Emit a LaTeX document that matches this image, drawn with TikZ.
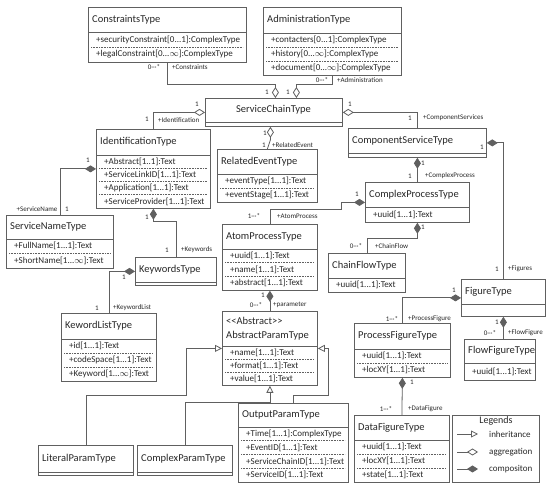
\documentclass[tikz,border=0pt]{standalone}
\usepackage{fontspec}
\setmainfont{Carlito}
\usetikzlibrary{arrows.meta}

\definecolor{umlgray}{RGB}{96,96,96}
\definecolor{umlink}{RGB}{40,40,40}

\tikzset{
  classbox/.style={draw=umlgray, line width=0.8pt, fill=white, inner sep=0pt, anchor=north west},
  classrule/.style={draw=umlgray, line width=0.8pt},
  attrrule/.style={draw=umlgray, line width=0.5pt, dash pattern=on 0.8pt off 0.8pt},
  classname/.style={anchor=west, inner sep=0pt, align=left, text=umlink, font=\fontsize{10.5}{14}\selectfont},
  attrname/.style={anchor=west, inner sep=0pt, text=umlink, font=\fontsize{9}{10}\selectfont},
  role/.style={inner sep=0pt, text=umlink, font=\fontsize{7}{8}\selectfont},
  link/.style={draw=umlgray, line width=0.8pt},
  aggr/.style={link, {Diamond[open, length=11pt, width=7pt, fill=white]}-},
  comp/.style={link, {Diamond[length=11pt, width=7pt]}-},
  inh/.style={link, {Triangle[open, length=7pt, width=7pt, fill=white]}-},
}

\newcommand{\rng}{...}
\newcommand{\infm}{\ensuremath{\infty}}

% #1 title options, #2 name, #3-#6 x1 y1 x2 y2, #7 header bottom, #8 title, #9 attributes
\newcommand{\umlclass}[9][]{%
  \node[classbox, minimum width=#5-#3, minimum height=#6-#4] (#2) at (#3,#4) {};
  \draw[classrule] (#3,#7) -- (#5,#7);
  \node[classname, #1] (#2-title) at ({#3+4},{(#4+#7)/2}) {#8};
  \def\nattr{0}%
  \foreach \a in {#9}{\pgfmathtruncatemacro\tmp{\nattr+1}\global\let\nattr\tmp}%
  \ifnum\nattr=0 \def\nattr{1}\fi
  \pgfmathsetmacro\rowh{(#6-#7)/\nattr}%
  \foreach \a [count=\i] in {#9}{%
    \node[attrname] (#2-\i) at ({#3+8},{#7+\rowh*(\i-0.5)}) {\a};
    \ifnum\i<\nattr\relax
      \draw[attrrule] ({#3+3},{#7+\rowh*\i}) -- ({#5-3},{#7+\rowh*\i});
    \fi
  }%
}

\begin{document}
\begin{tikzpicture}[x=1pt, y=-1pt]
  \path[use as bounding box, fill=white] (0,0) rectangle (550,489);

  % classes
  \umlclass{cons}{88}{7}{246}{62}{32}{ConstraintsType}{+securityConstraint[0\rng1]:ComplexType, +legalConstraint[0\rng\infm]:ComplexType}
  \umlclass{adm}{263}{7}{401}{75}{33}{AdministrationType}{+contacters[0\rng1]:ComplexType, +history[0\rng\infm]:ComplexType, +document[0\rng\infm]:ComplexType}
  \umlclass[anchor=center, xshift=64.5]{sct}{205}{98}{342}{126}{122}{ServiceChainType}{}
  \umlclass{idt}{96}{129}{210}{208}{155}{IdentificationType}{+Abstract[1..1]:Text, +ServiceLinkID[1\rng1]:Text, +Application[1\rng1]:Text, +ServiceProvider[1\rng1]:Text}
  \umlclass{ret}{217}{149}{317}{202}{174}{RelatedEventType}{+eventType[1\rng1]:Text, +eventStage[1\rng1]:Text}
  \umlclass{cst}{348}{128}{486}{157}{153}{ComponentServiceType}{}
  \umlclass{cpt}{365}{182}{469}{222}{207}{ComplexProcessType}{+uuid[1\rng1]:Text}
  \umlclass{snt}{6}{215}{113}{268}{239}{ServiceNameType}{+FullName[1\rng1]:Text, +ShortName[1\rng\infm]:Text}
  \umlclass{kwt}{135}{257}{216}{285}{282}{KeywordsType}{}
  \umlclass{klt}{61}{313}{156}{381}{339}{KewordListType}{+id[1\rng1]:Text, +codeSpace[1\rng1]:Text, +Keyword[1\rng\infm]:Text}
  \umlclass{apt}{222}{224}{317}{290}{249}{AtomProcessType}{+uuid[1\rng1]:Text, +name[1\rng1]:Text, +abstract[1\rng1]:Text}
  \umlclass{cft}{328}{253}{405}{292}{278}{ChainFlowType}{+uuid[1\rng1]:Text}
  \umlclass{abp}{222}{311}{317}{385}{346}{<{}<Abstract>{}>\\AbstractParamType}{+name[1\rng1]:Text, +format[1\rng1]:Text, +value[1\rng1]:Text}
  \umlclass{opt}{238}{403}{348}{482}{427}{OutputParamType}{+Time[1\rng1]:ComplexType, +EventID[1\rng1]:Text, +ServiceChainID[1\rng1]:Text, +ServiceID[1\rng1]:Text}
  \umlclass{lpt}{38}{445}{133}{475}{472}{LiteralParamType}{}
  \umlclass{cxp}{137}{445}{232}{475}{472}{ComplexParamType}{}
  \umlclass{fgt}{461}{279}{545}{316}{304}{FigureType}{}
  \umlclass{pft}{354}{323}{450}{377}{349}{ProcessFigureType}{+uuid[1\rng1]:Text, +locXY[1\rng1]:Text}
  \umlclass{fft}{464}{339}{535}{380}{363}{FlowFigureType}{+uuid[1\rng1]:Text}
  \umlclass{dft}{354}{415}{449}{482}{440}{DataFigureType}{+uuid[1\rng1]:Text, +locXY[1\rng1]:Text, +state[1\rng1]:Text}

  % aggregation
  \draw[aggr] ([xshift=1.5]sct.north) -- ++(0,-14) -| (cons.south);
  \draw[aggr] ([xshift=22.5]sct.north) -- ++(0,-14) -| (adm.south);
  \draw[aggr] (sct.west) -| (idt.north);
  \draw[aggr] ([xshift=-3.5]sct.south) -- ++(0,13) -- (ret.north);
  \draw[aggr] (sct.east) -| (cst.north);

  % composition
  \draw[comp] (cst.east) -| (fgt.north);
  \draw[comp] (cst.south) -- (cpt.north);
  \draw[comp] (cpt.west) -- ++(-24,0) -- ++(0,7) -| (apt.north);
  \draw[comp] (cpt.south) -- ++(0,16) -| (cft.north);
  \draw[comp] (idt.west) -| (snt.north);
  \draw[comp] (idt.south) -- ++(0,13) -| (kwt.north);
  \draw[comp] (kwt.west) -| (klt.north);
  \draw[comp] (apt.south) -- (abp.north);
  \draw[comp] (fgt.west) -| (pft.north);
  \draw[comp] (fgt.south) -- (fgt.south |- fft.north);
  \draw[comp] (pft.south) -- (dft.north);

  % inheritance
  \draw[inh] (abp.west) -- ++(-36,0) -- ++(0,47) -| (lpt.north);
  \draw[inh] (abp.south) -- ++(0,17) -| (cxp.north);
  \draw[inh] (abp.east) -- ++(11,0) -- ++(0,47) -| (opt.north);

  % roles and multiplicities
  \node[role] (m1) at (267,92) {1};
  \node[role] (m2) at (154,67) {0···*};
  \node[role, anchor=west] (r1) at (172,67) {+Constraints};
  \node[role] (m3) at (288,92) {1};
  \node[role] (m4) at (322,80) {0···*};
  \node[role, anchor=west] (r2) at (337,80) {+Administration};
  \node[role] (m5) at (197,104) {1};
  \node[role] (m6) at (147,119) {1};
  \node[role, anchor=west] (r3) at (158,120) {+Identification};
  \node[role] (m7) at (265,133) {1};
  \node[role] (m8) at (264,145) {1};
  \node[role, anchor=west] (r4) at (272,145) {+RelatedEvent};
  \node[role] (m9) at (350,104) {1};
  \node[role] (m10) at (410,118) {1};
  \node[role, anchor=west] (r5) at (423,118) {+ComponentServices};
  \node[role] (m11) at (482,147) {1};
  \node[role] (m12) at (497,269) {1};
  \node[role, anchor=west] (r6) at (508,269) {+Figures};
  \node[role] (m13) at (423,163) {1};
  \node[role] (m14) at (410,176) {1};
  \node[role, anchor=west] (r7) at (425,176) {+ComplexProcess};
  \node[role] (m15) at (357,194) {1};
  \node[role] (m16) at (254,216) {1···*};
  \node[role, anchor=west] (r8) at (277,216) {+AtomProcess};
  \node[role] (m17) at (423,227) {1};
  \node[role] (m18) at (356,246) {0···*};
  \node[role, anchor=west] (r9) at (375,246) {+ChainFlow};
  \node[role] (m19) at (88,160) {1};
  \node[role] (r10) at (37,209) {+ServiceName};
  \node[role] (m20) at (67,209) {1};
  \node[role] (m21) at (147,217) {1};
  \node[role] (m22) at (167,250) {1};
  \node[role, anchor=west] (r11) at (181,250) {+Keywords};
  \node[role] (m23) at (124,277) {1};
  \node[role] (m24) at (97,308) {1};
  \node[role, anchor=west] (r12) at (113,308) {+KeywordList};
  \node[role] (m25) at (263,295) {1};
  \node[role] (m26) at (256,305) {0···*};
  \node[role, anchor=west] (r13) at (273,305) {+parameter};
  \node[role] (m27) at (454,290) {1};
  \node[role] (m28) at (392,319) {1···*};
  \node[role, anchor=west] (r14) at (408,319) {+ProcessFigure};
  \node[role] (m29) at (497,322) {1};
  \node[role] (m30) at (490,333) {0···*};
  \node[role, anchor=west] (r15) at (508,333) {+FlowFigure};
  \node[role] (m31) at (412,382) {1};
  \node[role] (m32) at (386,409) {1···*};
  \node[role, anchor=west] (r16) at (408,409) {+DataFigure};

  % legend
  \node[classbox, minimum width=87, minimum height=67] (lgd) at (452,415) {};
  \node[classname, anchor=center, font=\fontsize{10}{12}\selectfont] (lgd-title) at (496,421) {Legends};
  \coordinate (lg-a1) at (457,434);
  \coordinate (lg-a2) at (478,434);
  \coordinate (lg-b1) at (457,452);
  \coordinate (lg-b2) at (478,452);
  \coordinate (lg-c1) at (457,469);
  \coordinate (lg-c2) at (478,469);
  \draw[link, -{Triangle[open, length=7pt, width=7pt, fill=white]}] (lg-a1) -- (lg-a2);
  \draw[link, -{Diamond[open, length=11pt, width=7pt, fill=white]}] (lg-b1) -- (lg-b2);
  \draw[link, -{Diamond[length=11pt, width=7pt]}] (lg-c1) -- (lg-c2);
  \node[attrname] (lg-a) at (489,434) {inheritance};
  \node[attrname] (lg-b) at (489,452) {aggregation};
  \node[attrname] (lg-c) at (489,469) {compositon};
\end{tikzpicture}
\end{document}
